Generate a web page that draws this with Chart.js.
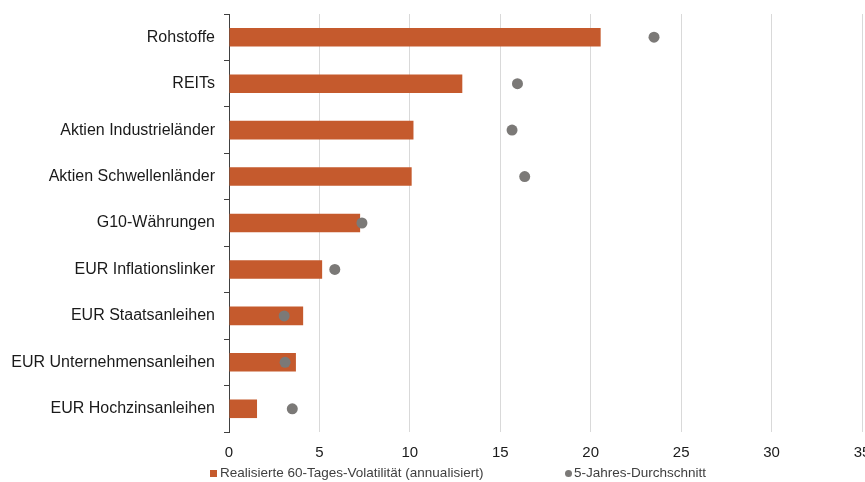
<!doctype html>
<html lang="de">

<head>
  <meta charset="utf-8">
  <title>Volatilität</title>
  <script src="https://cdn.jsdelivr.net/npm/chart.js"></script>
  <style>
    html, body { margin: 0; padding: 0; overflow: hidden; background: #fff; }
    #wrap { position: relative; width: 865px; height: 482px; overflow: hidden; }
    #chart { position: absolute; left: 0; top: 0; }
    .legend { position: absolute; top: 465px; font: 13.5px "Liberation Sans", Arial, sans-serif; color: #404040; white-space: nowrap; }
    .legend span.box { display: inline-block; width: 7px; height: 7px; background: #c55a2d; margin-right: 3px; vertical-align: 0px; }
    .legend span.dot { display: inline-block; width: 7px; height: 7px; border-radius: 50%; background: #7b7977; margin-right: 2px; vertical-align: 0px; }
  </style>
</head>

<body>
  <div id="wrap">
    <canvas id="chart" width="880" height="482"></canvas>
    <div class="legend" style="left:210px"><span class="box"></span>Realisierte 60-Tages-Volatilität (annualisiert)</div>
    <div class="legend" style="left:565px"><span class="dot"></span>5-Jahres-Durchschnitt</div>
  </div>

  <script>
    const categories = [
      'Rohstoffe',
      'REITs',
      'Aktien Industrieländer',
      'Aktien Schwellenländer',
      'G10-Währungen',
      'EUR Inflationslinker',
      'EUR Staatsanleihen',
      'EUR Unternehmensanleihen',
      'EUR Hochzinsanleihen'
    ];
    const realisedVol = [20.55, 12.9, 10.2, 10.1, 7.25, 5.15, 4.1, 3.7, 1.55];
    const fiveYearAvg = [23.5, 15.95, 15.65, 16.35, 7.35, 5.85, 3.05, 3.1, 3.5];
    const xTicks = [0, 5, 10, 15, 20, 25, 30, 35];

    const ctx = document.getElementById('chart');
    new Chart(ctx, {
      type: 'bar',
      data: {
        labels: categories,
        datasets: [
          {
            label: 'Realisierte 60-Tages-Volatilität (annualisiert)',
            data: realisedVol,
            backgroundColor: '#c55a2d',
            categoryPercentage: 1,
            barPercentage: 0.4,
            order: 2
          },
          {
            type: 'line',
            label: '5-Jahres-Durchschnitt',
            data: fiveYearAvg,
            indexAxis: 'y',
            showLine: false,
            pointRadius: 5.5,
            pointBackgroundColor: '#7b7977',
            pointBorderWidth: 0,
            order: 1
          }
        ]
      },
      options: {
        indexAxis: 'y',
        responsive: false,
        animation: false,
        layout: {
          padding: { left: 0, top: 14, right: 18, bottom: 20 }
        },
        scales: {
          x: {
            min: 0,
            max: 35,
            afterBuildTicks: function (scale) {
              scale.ticks = xTicks.map(v => ({ value: v }));
            },
            afterFit: function (scale) {
              scale.height = 30;
              scale.paddingLeft = 0;
              scale.paddingRight = 0;
            },
            border: { display: false },
            grid: { color: '#d9d9d9', drawTicks: false },
            ticks: {
              padding: 12,
              color: '#1a1a1a',
              font: { family: 'Liberation Sans', size: 15 }
            }
          },
          y: {
            afterFit: function (scale) {
              scale.width = 229;
              scale.paddingTop = 0;
              scale.paddingBottom = 0;
            },
            border: { display: true, color: '#404040' },
            grid: {
              offset: true,
              drawOnChartArea: false,
              tickLength: 5,
              color: '#404040'
            },
            ticks: {
              padding: 9,
              color: '#1a1a1a',
              font: { family: 'Liberation Sans', size: 16 }
            }
          }
        },
        plugins: {
          legend: { display: false },
          tooltip: { enabled: false }
        }
      }
    });
  </script>
</body>

</html>
